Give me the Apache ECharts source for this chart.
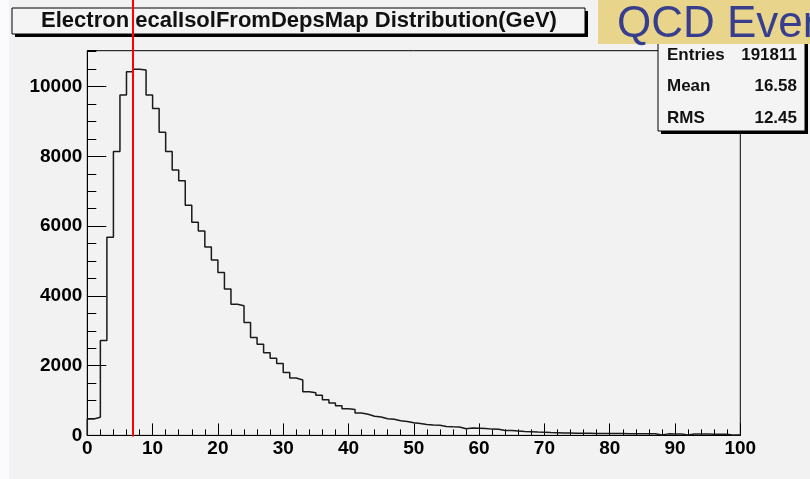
<!DOCTYPE html>
<html>
<head>
<meta charset="utf-8">
<title>Electron ecalIsolFromDepsMap Distribution(GeV)</title>
<script src="https://cdn.jsdelivr.net/npm/echarts@6/dist/echarts.min.js"></script>
<style>
  html, body { margin: 0; padding: 0; background: #f2f2f2; }
  #chart { width: 810px; height: 479px; }
</style>
</head>
<body>
<div id="chart"></div>
<script>
// Histogram: 100 bins of width 1 GeV from 0 to 100 (entries per bin)
const binLow = 0;
const binWidth = 1;
const binCounts = [
  470, 520, 2720, 5680, 8140, 9760, 10430, 10500, 10480, 9760,
  9370, 8690, 8140, 7610, 7300, 6600, 6110, 5860, 5400, 5030,
  4670, 4200, 3760, 3720, 3240, 2810, 2610, 2370, 2210, 2065,
  1805, 1645, 1590, 1250, 1220, 1150, 1020, 930, 850, 765,
  745, 640, 605, 550, 525, 480, 465, 420, 400, 360,
  340, 315, 300, 290, 255, 245, 240, 190, 210, 205,
  200, 180, 175, 140, 140, 125, 110, 105, 95, 92,
  80, 75, 70, 68, 65, 62, 60, 58, 56, 55,
  53, 52, 50, 50, 48, 47, 45, 12, 44, 42,
  40, 10, 40, 38, 37, 36, 35, 34, 8, 8
];

// Cut position drawn as a vertical red line
const cutValue = [7];

// Axis settings
const xTicks = { min: 0, max: 100, step: 10 };
const yTicks = { min: 0, max: 11030, step: 2000, minorStep: 500 };

// Text blocks
const titleText = 'Electron ecalIsolFromDepsMap Distribution(GeV)';
const bannerText = 'QCD Events';
const statNames = ['Entries', 'Mean', 'RMS'];
const statValues = ['191811', '16.58', '12.45'];

// Outline of the histogram as step points: rise at the low edge, then one point per bin
const outline = [[binLow, 0]];
binCounts.forEach((c, i) => outline.push([binLow + i * binWidth, c]));
outline.push([binLow + binCounts.length * binWidth, binCounts[binCounts.length - 1]]);
outline.push([binLow + binCounts.length * binWidth, 0]);

const FONT = '"Liberation Sans", Arial, Helvetica, sans-serif';
const chart = echarts.init(document.getElementById('chart'), null, { renderer: 'canvas' });

const statRowsY = [55, 86, 118];
const statGraphics = [];
statNames.forEach((name, i) => {
  statGraphics.push({
    type: 'text', z: 31, x: 667, y: statRowsY[i],
    style: { text: name, font: 'bold 17px ' + FONT, fill: '#111', align: 'left', verticalAlign: 'middle' }
  });
  statGraphics.push({
    type: 'text', z: 31, x: 797, y: statRowsY[i],
    style: { text: statValues[i], font: 'bold 17px ' + FONT, fill: '#111', align: 'right', verticalAlign: 'middle' }
  });
});

const plainNumber = v => String(v);

chart.setOption({
  backgroundColor: '#f2f2f2',
  animation: false,
  grid: {
    left: 87.3, right: 69.7, top: 50.7, bottom: 43.6,
    show: true, borderColor: '#000', borderWidth: 1, backgroundColor: 'transparent'
  },
  xAxis: {
    type: 'value', min: xTicks.min, max: xTicks.max, interval: xTicks.step,
    axisLine: { show: true, onZero: false, lineStyle: { color: '#000', width: 1 } },
    axisTick: { show: true, inside: true, length: 12, lineStyle: { color: '#000', width: 1 } },
    minorTick: { show: true, splitNumber: 5, length: 6, lineStyle: { color: '#000', width: 1 } },
    axisLabel: { color: '#000', fontFamily: FONT, fontWeight: 'bold', fontSize: 19, margin: 4, formatter: plainNumber },
    splitLine: { show: false }
  },
  yAxis: [{
    type: 'value', min: yTicks.min, max: yTicks.max, interval: yTicks.step,
    axisLine: { show: true, onZero: false, lineStyle: { color: '#000', width: 1 } },
    axisTick: { show: true, inside: true, length: 19, lineStyle: { color: '#000', width: 1 } },
    axisLabel: { color: '#000', fontFamily: FONT, fontWeight: 'bold', fontSize: 19, margin: 5, showMaxLabel: false, formatter: plainNumber },
    splitLine: { show: false }
  }, {
    // secondary ticks every 500 entries on the same left edge
    type: 'value', position: 'left', min: yTicks.min, max: yTicks.max, interval: yTicks.minorStep,
    axisLine: { show: false },
    axisTick: { show: true, inside: true, length: 9, lineStyle: { color: '#000', width: 1 } },
    axisLabel: { show: false },
    splitLine: { show: false }
  }],
  series: [{
    type: 'line',
    data: outline,
    step: 'end',
    symbol: 'none',
    clip: false,
    z: 5,
    lineStyle: { color: '#1a1a1a', width: 1.5 }
  }, {
    type: 'custom',
    data: cutValue.map(v => [v, 0]),
    clip: false,
    z: 40,
    renderItem: function (params, api) {
      const p = api.coord([api.value(0), 0]);
      return {
        type: 'line',
        shape: { x1: p[0], y1: p[1] + 1, x2: p[0], y2: 0 },
        style: { stroke: '#ff0000', lineWidth: 2 }
      };
    }
  }],
  graphic: [
    // left margin strip
    { type: 'rect', z: 0, shape: { x: 0, y: 0, width: 9, height: 479 }, style: { fill: '#fbfbfd' } },
    // title pave with shadow
    { type: 'rect', z: 20, shape: { x: 15, y: 11, width: 573, height: 26 }, style: { fill: '#000' } },
    { type: 'rect', z: 21, shape: { x: 12, y: 8, width: 573, height: 26 }, style: { fill: '#f4f4f4', stroke: '#000', lineWidth: 1 } },
    { type: 'text', z: 22, x: 299, y: 21, style: { text: titleText, font: 'bold 22px ' + FONT, fill: '#111', align: 'center', verticalAlign: 'middle' } },
    // statistics box with shadow
    { type: 'rect', z: 29, shape: { x: 661, y: 28, width: 147, height: 106 }, style: { fill: '#000' } },
    { type: 'rect', z: 30, shape: { x: 658, y: 25, width: 147, height: 106 }, style: { fill: '#f4f4f4', stroke: '#000', lineWidth: 1 } },
    ...statGraphics,
    // banner
    { type: 'rect', z: 50, shape: { x: 598, y: 0, width: 212, height: 44 }, style: { fill: '#e9d48c' } },
    { type: 'text', z: 51, x: 617, y: 25, style: { text: bannerText, font: '44px ' + FONT, fill: '#383e8e', verticalAlign: 'middle' } }
  ]
});
</script>
</body>
</html>
